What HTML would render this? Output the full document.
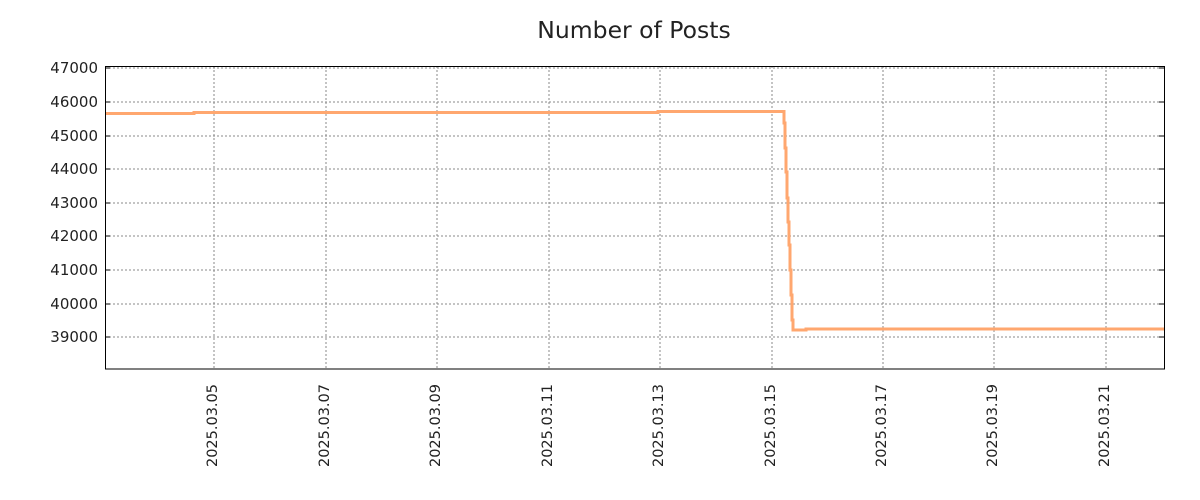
<!DOCTYPE html>
<html><head><meta charset="utf-8"><style>body{margin:0;background:#fff}svg{display:block}text{font-family:"DejaVu Sans","Liberation Sans",sans-serif;fill:#222}</style></head>
<body>
<svg width="1200" height="500" xmlns="http://www.w3.org/2000/svg">
<text x="634" y="38" font-size="23.5" text-anchor="middle">Number of Posts</text>
<g stroke="#888" stroke-width="1" stroke-dasharray="2,2" fill="none">
<line x1="105" x2="1164" y1="68" y2="68"/>
<line x1="105" x2="1164" y1="102" y2="102"/>
<line x1="105" x2="1164" y1="136" y2="136"/>
<line x1="105" x2="1164" y1="169" y2="169"/>
<line x1="105" x2="1164" y1="203" y2="203"/>
<line x1="105" x2="1164" y1="236" y2="236"/>
<line x1="105" x2="1164" y1="270" y2="270"/>
<line x1="105" x2="1164" y1="304" y2="304"/>
<line x1="105" x2="1164" y1="337" y2="337"/>
<line x1="214" x2="214" y1="66" y2="369"/>
<line x1="326" x2="326" y1="66" y2="369"/>
<line x1="437" x2="437" y1="66" y2="369"/>
<line x1="549" x2="549" y1="66" y2="369"/>
<line x1="660" x2="660" y1="66" y2="369"/>
<line x1="772" x2="772" y1="66" y2="369"/>
<line x1="883" x2="883" y1="66" y2="369"/>
<line x1="994" x2="994" y1="66" y2="369"/>
<line x1="1106" x2="1106" y1="66" y2="369"/>
</g>
<polyline fill="none" stroke="#ffa76f" stroke-width="3" points="105,113.5 194,113.5 194,112.5 658,112.5 658,111.5 784,111.5 784,123 785,123 785,148 786,148 786,172 787,172 787,198 788,198 788,222 789,222 789,245 790,245 790,270 791,270 791,295 792,295 792,320 793,320 793,330 806,330 806,329 1164,329"/>
<rect x="105.5" y="66.5" width="1059" height="302.5" fill="none" stroke="#000" stroke-width="1"/>
<g stroke="#000" stroke-width="1">
<line x1="105" x2="110" y1="68" y2="68"/><line x1="105" x2="110" y1="102" y2="102"/><line x1="105" x2="110" y1="136" y2="136"/><line x1="105" x2="110" y1="169" y2="169"/><line x1="105" x2="110" y1="203" y2="203"/><line x1="105" x2="110" y1="236" y2="236"/><line x1="105" x2="110" y1="270" y2="270"/><line x1="105" x2="110" y1="304" y2="304"/><line x1="105" x2="110" y1="337" y2="337"/>
<line x1="1159" x2="1164" y1="68" y2="68"/><line x1="1159" x2="1164" y1="102" y2="102"/><line x1="1159" x2="1164" y1="136" y2="136"/><line x1="1159" x2="1164" y1="169" y2="169"/><line x1="1159" x2="1164" y1="203" y2="203"/><line x1="1159" x2="1164" y1="236" y2="236"/><line x1="1159" x2="1164" y1="270" y2="270"/><line x1="1159" x2="1164" y1="304" y2="304"/><line x1="1159" x2="1164" y1="337" y2="337"/>
</g>
<g font-size="15" text-anchor="end">
<text x="98" y="73">47000</text><text x="98" y="107">46000</text><text x="98" y="141">45000</text><text x="98" y="174">44000</text><text x="98" y="208">43000</text><text x="98" y="241">42000</text><text x="98" y="275">41000</text><text x="98" y="309">40000</text><text x="98" y="342">39000</text>
</g>
<g font-size="14.5" text-anchor="end">
<text transform="translate(217,384) rotate(-90)">2025.03.05</text>
<text transform="translate(329,384) rotate(-90)">2025.03.07</text>
<text transform="translate(440,384) rotate(-90)">2025.03.09</text>
<text transform="translate(552,384) rotate(-90)">2025.03.11</text>
<text transform="translate(663,384) rotate(-90)">2025.03.13</text>
<text transform="translate(775,384) rotate(-90)">2025.03.15</text>
<text transform="translate(886,384) rotate(-90)">2025.03.17</text>
<text transform="translate(997,384) rotate(-90)">2025.03.19</text>
<text transform="translate(1109,384) rotate(-90)">2025.03.21</text>
</g>
</svg>
</body></html>
